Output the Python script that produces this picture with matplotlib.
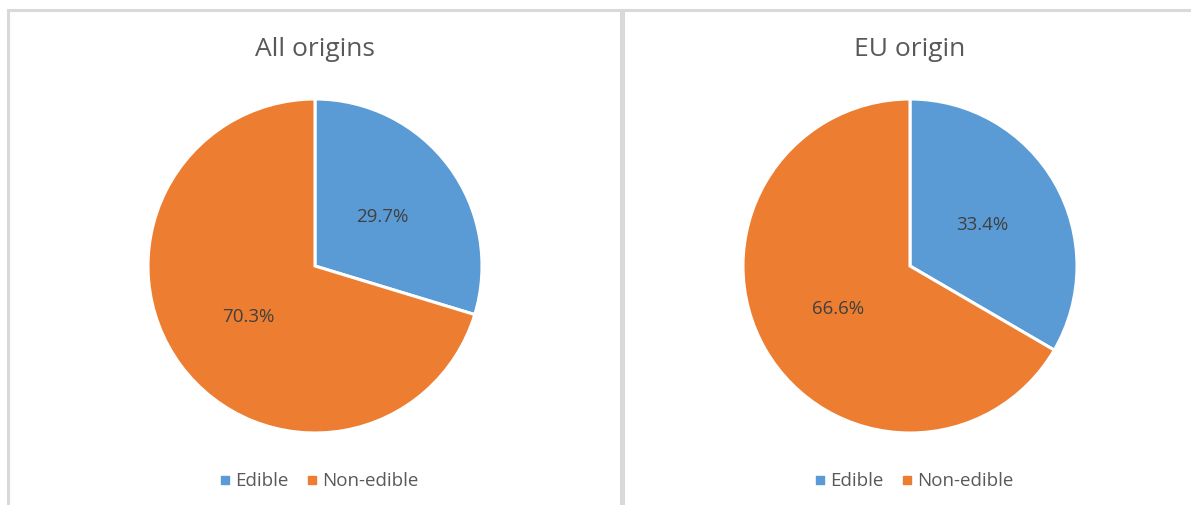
import matplotlib.pyplot as plt
from matplotlib.patches import Rectangle

# data
titles = ["All origins", "EU origin"]
labels = ["Edible", "Non-edible"]
all_origins = [29.7, 70.3]
eu_origin = [33.4, 66.6]
colors = ["#5B9BD5", "#ED7D31"]

W, H = 1191, 506
plt.rcParams['font.family'] = ['Open Sans', 'DejaVu Sans']

fig = plt.figure(figsize=(W / 100, H / 100), dpi=100)
ax = fig.add_axes([0, 0, 1, 1])

# panel borders
ax.add_patch(Rectangle((8, -10), 613, H - 11 + 10, fill=False, ec="#D9D9D9", lw=2.2))
ax.add_patch(Rectangle((623, -10), 600, H - 11 + 10, fill=False, ec="#D9D9D9", lw=2.2))

centers = [315, 910]
for cx, title, vals in zip(centers, titles, [all_origins, eu_origin]):
    ax.pie(vals, colors=colors, startangle=90, counterclock=False,
           center=(cx, H - 267), radius=167, autopct='%1.1f%%',
           pctdistance=0.5, frame=True,
           wedgeprops=dict(edgecolor='white', linewidth=2.2),
           textprops=dict(fontsize=13.5, color='#404040'))
    ax.text(cx, H - 49, title, ha='center', va='center', fontsize=19, color='#595959')
    # legend
    ax.scatter([cx - 90], [H - 481], marker='s', s=36, color=colors[0])
    ax.text(cx - 80, H - 481, labels[0], ha='left', va='center', fontsize=13.5, color='#595959')
    ax.scatter([cx - 3], [H - 481], marker='s', s=36, color=colors[1])
    ax.text(cx + 7, H - 481, labels[1], ha='left', va='center', fontsize=13.5, color='#595959')

ax.set_xlim(0, W)
ax.set_ylim(0, H)
ax.set_aspect('auto')
ax.axis('off')

fig.savefig("out.png", dpi=100)
